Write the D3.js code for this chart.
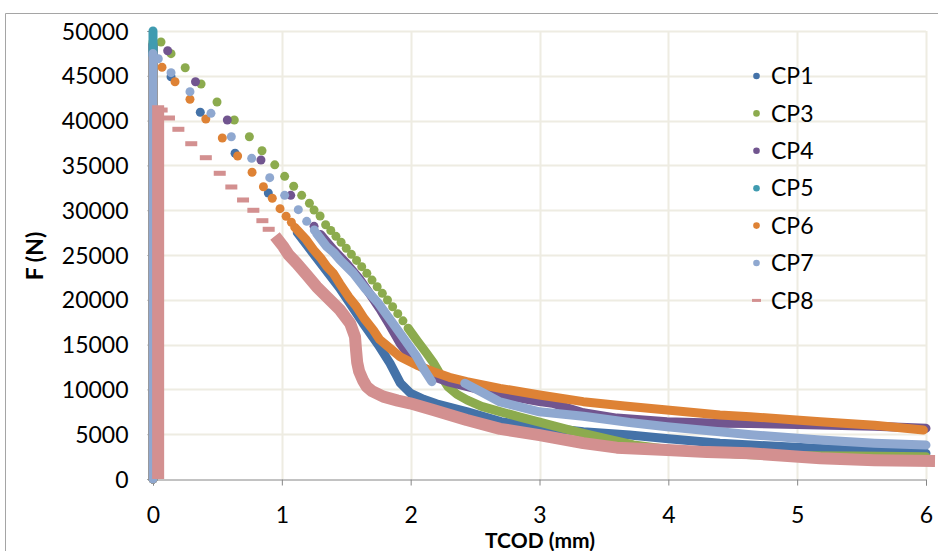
<!DOCTYPE html>
<html>
<head>
<meta charset="utf-8">
<script src="https://cdn.jsdelivr.net/npm/d3@7"></script>
<style>
  html, body { margin: 0; padding: 0; background: #fff; }
  svg { display: block; font-family: Lato, "Open Sans", sans-serif; }
</style>
</head>
<body>
<svg id="chart" width="938" height="551"></svg>
<script>
// ---------------- DATA ----------------
const xTicks = [0, 1, 2, 3, 4, 5, 6];
const yTicks = [0, 5000, 10000, 15000, 20000, 25000, 30000, 35000, 40000, 45000, 50000];
const seriesNames = ["CP1", "CP3", "CP4", "CP5", "CP6", "CP7", "CP8"];
const seriesColors = ["#4472A8", "#8CAB4E", "#71558F", "#3F9BB0", "#DE8235", "#8FA8D0", "#D39090"];

// [TCOD mm, F N]; null breaks the dense trace
const cp1Line = [[0, 0], [0, 48500], null,
  [1.12, 27500], [1.30, 24100], [1.45, 21300], [1.63, 17400], [1.75, 14950], [1.84, 12900],
  [1.92, 10700], [2.0, 9560], [2.1, 8900], [2.2, 8400], [2.44, 7500], [2.7, 6400], [3.0, 5800],
  [3.34, 5280], [3.7, 4900], [4.0, 4500], [4.4, 4000], [4.64, 3800], [5.18, 3400], [5.6, 3100], [6.0, 2870]];
const cp1Dots = [[0.14, 44900], [0.367, 40930], [0.637, 36350], [0.895, 31920]];

const cp3Line = [[0, 0], [0, 48800], null,
  [1.98, 16830], [2.05, 15450], [2.12, 14100], [2.18, 12900], [2.24, 11400], [2.29, 10300],
  [2.36, 9450], [2.44, 8800], [2.55, 8100], [2.7, 7500], [2.85, 6900], [3.0, 6350], [3.2, 5600],
  [3.34, 5100], [3.55, 4400], [3.73, 3800], [4.0, 3300], [4.25, 3050], [4.64, 2700], [5.0, 2600],
  [5.44, 2570], [6.0, 2490]];
const cp3Dots = [[0.062, 48770], [0.14, 47470], [0.25, 45900], [0.373, 44080], [0.497, 42080],
  [0.631, 40070], [0.748, 38200], [0.846, 36640], [0.945, 35060], [1.022, 33780], [1.092, 32670],
  [1.154, 31660], [1.214, 30770], [1.25, 30020], [1.297, 29350], [1.34, 28370], [1.38, 27730],
  [1.42, 27080], [1.46, 26420], [1.50, 25750], [1.54, 25070], [1.58, 24400], [1.62, 23700],
  [1.66, 22950], [1.70, 22200], [1.74, 21460], [1.78, 20720], [1.82, 19980], [1.86, 19220],
  [1.90, 18450], [1.94, 17650]];

const cp4Line = [[0, 0], [0, 48500], null,
  [1.30, 27300], [1.40, 25600], [1.50, 24100], [1.60, 22400], [1.70, 20300], [1.76, 19000],
  [1.84, 17100], [1.92, 15100], [2.0, 13600], [2.05, 12900], [2.18, 11400], [2.3, 10800],
  [2.44, 10300], [2.7, 9400], [3.0, 8650], [3.1, 8450], [3.34, 7400], [3.6, 6800], [3.99, 6400],
  [4.4, 6210], [4.64, 6200], [5.18, 6030], [5.6, 5900], [6.0, 5660]];
const cp4Dots = [[0.114, 47800], [0.33, 44340], [0.577, 40070], [0.838, 35600], [1.069, 31660], [1.25, 28200]];

const cp5Line = [[0, 0], [0, 50000]];
const cp5Dots = [];

const cp6Line = [[0, 0], [0, 47000], null,
  [1.10, 28100], [1.19, 26700], [1.245, 25600], [1.30, 24700], [1.35, 23700], [1.40, 22960],
  [1.45, 21800], [1.52, 20300], [1.58, 19230], [1.64, 17900], [1.71, 16630], [1.76, 15550],
  [1.814, 14900], [1.918, 13650], [2.05, 12700], [2.176, 11980], [2.3, 11350], [2.435, 10860],
  [2.694, 10120], [3.0, 9380], [3.34, 8630], [3.66, 8150], [3.99, 7700], [4.4, 7140], [4.635, 6950],
  [5.18, 6400], [5.6, 6000], [5.98, 5470]];
const cp6Dots = [[0.07, 45950], [0.171, 44340], [0.287, 42380], [0.41, 40180], [0.538, 38060],
  [0.657, 36050], [0.769, 34230], [0.857, 32620], [0.926, 31330], [0.986, 30170], [1.033, 29320],
  [1.074, 28650]];

const cp7Line = [[0, 0], [0, 47500], null,
  [1.27, 27400], [1.349, 25930], [1.40, 25300], [1.452, 24440], [1.555, 22960], [1.65, 21200],
  [1.75, 19610], [1.83, 18000], [1.918, 16260], [2.047, 13650], [2.10, 12300], [2.164, 10860], null,
  [2.42, 10680], [2.55, 9700], [2.694, 8600], [3.0, 7500], [3.34, 7000], [3.7, 6300], [3.99, 5840],
  [4.4, 5280], [4.64, 4950], [5.18, 4350], [5.6, 4000], [6.0, 3790]];
const cp7Dots = [[0.041, 46900], [0.14, 45350], [0.287, 43230], [0.45, 40810], [0.608, 38200],
  [0.766, 35790], [0.906, 33630], [1.022, 31660], [1.128, 30060], [1.193, 28760], [1.252, 27790]];

const cp8Line = [[0.04, 0], [0.04, 41700], null,
  [0.947, 27120], [1.012, 25930], [1.05, 25080], [1.116, 24070], [1.193, 22770], [1.27, 21460],
  [1.36, 20170], [1.452, 18860], [1.53, 17380], [1.568, 15880], [1.576, 14400], [1.585, 13000],
  [1.6, 12000], [1.63, 11000], [1.659, 10300], [1.7, 9800], [1.788, 9190], [1.9, 8750],
  [1.995, 8450], [2.176, 7700], [2.435, 6580], [2.694, 5600], [3.0, 4900], [3.34, 4000],
  [3.6, 3500], [3.99, 3240], [4.3, 3000], [4.635, 2870], [5.18, 2310], [5.6, 2100], [6.07, 2010]];
const cp8Dots = [[0.067, 41180], [0.124, 40290], [0.197, 39030], [0.297, 37420], [0.41, 35860],
  [0.518, 34120], [0.608, 32590], [0.699, 31140], [0.779, 29990], [0.849, 28830], [0.898, 27870]];

const seriesLines = [cp1Line, cp3Line, cp4Line, cp5Line, cp6Line, cp7Line, cp8Line];
const seriesDots = [cp1Dots, cp3Dots, cp4Dots, cp5Dots, cp6Dots, cp7Dots, cp8Dots];

// ---------------- LAYOUT ----------------
const svg = d3.select("#chart");
const plot = { left: 153, right: 926, top: 31, bottom: 479 };
const x = d3.scaleLinear().domain([0, 6]).range([plot.left, plot.right]);
const y = d3.scaleLinear().domain([0, 50000]).range([plot.bottom, plot.top]);
const gridColor = "#EEECE2";
const axisColor = "#868686";

// outer chart border (top + left visible)
svg.append("path").attr("d", `M5.5,560 V13.5 H950`).attr("fill", "none").attr("stroke", "#A5A5A5").attr("stroke-width", 1);

// gridlines
const grid = svg.append("g");
grid.selectAll("line.h").data(yTicks.filter(d => d > 0)).join("line")
  .attr("x1", plot.left).attr("x2", plot.right)
  .attr("y1", d => Math.round(y(d)) + 0.5).attr("y2", d => Math.round(y(d)) + 0.5)
  .attr("stroke", gridColor).attr("stroke-width", 2);
grid.selectAll("line.v").data(xTicks.filter(d => d > 0)).join("line")
  .attr("x1", d => Math.round(x(d)) + 0.5).attr("x2", d => Math.round(x(d)) + 0.5)
  .attr("y1", plot.top).attr("y2", plot.bottom)
  .attr("stroke", gridColor).attr("stroke-width", 2);

// axes
const yAxis = d3.axisLeft(y).tickValues(yTicks).tickSize(6).tickPadding(19).tickFormat(d3.format("d"));
const gy = svg.append("g").attr("transform", `translate(${plot.left + 0.5},0)`).call(yAxis);
const xAxis = d3.axisBottom(x).tickValues(xTicks).tickSize(6).tickPadding(21).tickFormat(d3.format("d"));
const gx = svg.append("g").attr("transform", `translate(0,${plot.bottom + 0.5})`).call(xAxis);
[gx, gy].forEach(g => {
  g.select(".domain").attr("stroke", axisColor);
  g.selectAll(".tick line").attr("stroke", axisColor);
  g.selectAll(".tick text").attr("fill", "#000").style("font-size", "23px").style("font-family", "Lato, sans-serif");
});
gy.selectAll(".tick text").attr("dy", "0.35em");

// axis titles
svg.append("text").attr("x", 540).attr("y", 548)
  .attr("text-anchor", "middle").style("font-size", "21px").style("font-weight", "bold").text("TCOD (mm)");
svg.append("text").attr("transform", "translate(43,256) rotate(-90)")
  .attr("text-anchor", "middle").style("font-size", "23px").style("font-weight", "bold").text("F (N)");

// series
const line = d3.line().defined(d => d !== null).x(d => x(d[0])).y(d => y(d[1]));
const gs = svg.append("g");
seriesNames.forEach((name, i) => {
  const c = seriesColors[i];
  const isDash = name === "CP8";
  const g = gs.append("g");
  g.append("path").attr("d", line(seriesLines[i]))
    .attr("fill", "none").attr("stroke", c)
    .attr("stroke-width", isDash ? 12 : 9)
    .attr("stroke-linecap", isDash ? "butt" : "round")
    .attr("stroke-linejoin", "round");
  if (isDash) {
    g.selectAll("rect").data(seriesDots[i]).join("rect")
      .attr("x", d => x(d[0]) - 6).attr("y", d => y(d[1]) - 2.5)
      .attr("width", 12).attr("height", 5).attr("fill", c);
  } else {
    g.selectAll("circle").data(seriesDots[i]).join("circle")
      .attr("cx", d => x(d[0])).attr("cy", d => y(d[1])).attr("r", 4.5).attr("fill", c);
  }
});

// legend
const lg = svg.append("g");
seriesNames.forEach((name, i) => {
  const cy = 76 + i * 37.4;
  if (name === "CP8") {
    lg.append("rect").attr("x", 752).attr("y", cy - 1.5).attr("width", 9).attr("height", 3).attr("fill", seriesColors[i]);
  } else {
    lg.append("circle").attr("cx", 756.5).attr("cy", cy).attr("r", 3.3).attr("fill", seriesColors[i]);
  }
  lg.append("text").attr("x", 771).attr("y", cy).attr("dy", "0.36em")
    .style("font-size", "23px").attr("fill", "#000").text(name);
});
</script>
</body>
</html>
